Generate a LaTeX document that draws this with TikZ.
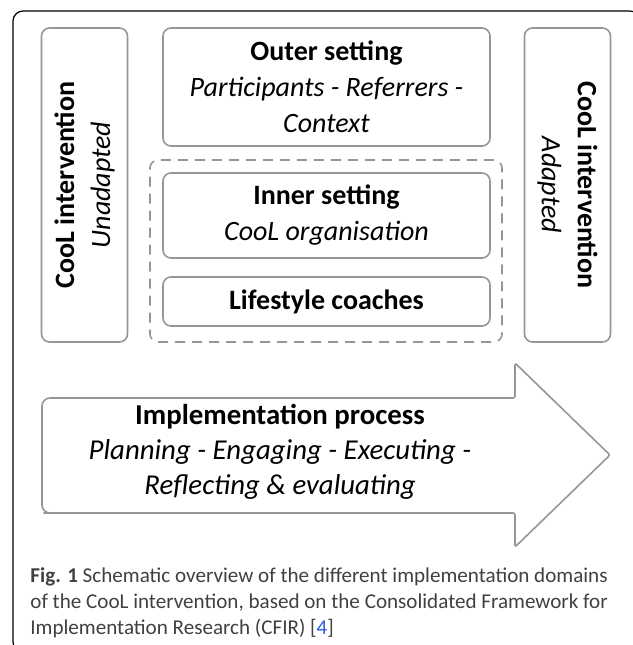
\documentclass[tikz,border=0pt]{standalone}
\usepackage{fontspec}
\setmainfont{Carlito}
\definecolor{boxgray}{RGB}{150,150,150}
\definecolor{citeblue}{RGB}{40,90,220}
\tikzstyle{setting} = [rectangle, rounded corners=4pt, draw=boxgray, line width=0.8pt, align=center, minimum width=163.5pt, inner sep=0pt, font=\fontsize{14}{18}\selectfont]
\tikzstyle{intervention} = [rectangle, rounded corners=4pt, draw=boxgray, line width=0.8pt, align=center, minimum width=157pt, minimum height=43pt, inner sep=0pt, font=\fontsize{14}{18}\selectfont]
\tikzstyle{innergroup} = [rectangle, rounded corners=4pt, draw=boxgray, line width=0.8pt, dash pattern=on 5pt off 3.5pt, minimum width=176pt, minimum height=91pt]
\tikzstyle{arrowshape} = [draw=boxgray, line width=0.8pt, line join=round]
\tikzstyle{figframe} = [draw=black, line width=0.6pt, rounded corners=5pt]

\begin{document}
\begin{tikzpicture}[x=0.5pt, y=0.5pt, node distance=43pt]

\useasboundingbox (0,0) rectangle (633,-645);
\draw [figframe] (13,-11) rectangle (640,-652);

\node (outer) [setting, minimum height=59pt] at (326.5,-87) {\textbf{Outer setting}\\ \textit{Participants - Referrers -}\\ \textit{Context}};
\node (inner) [setting, minimum height=42.5pt, below of=outer, yshift=-21.25pt] {\textbf{Inner setting}\\ \textit{CooL organisation}};
\node (coaches) [setting, minimum height=24.5pt, below of=inner] {\textbf{Lifestyle coaches}};
\node (innerdomain) [innergroup] at (326,-251) {};

\node (unadapted) [intervention, rotate=90] at (84.5,-185) {\textbf{CooL intervention}\\ \textit{Unadapted}};
\node (adapted) [intervention, rotate=-90] at (567.5,-185) {\textbf{CooL intervention}\\ \textit{Adapted}};

% process arrow: rounded tail, sharp-ish head
\draw [arrowshape] (610,-455) [rounded corners=1pt] -- (515,-363) -- (515,-398) -- (505,-398) [rounded corners=4pt] -- (42,-398) -- (42,-513) -- (52,-513) [rounded corners=1pt] -- (515,-513) -- (515,-547) -- cycle;
\node (implementation) [align=center, font=\fontsize{14.4}{17.5}\selectfont] at (280,-452) {\textbf{Implementation process}\\ \textit{Planning - Engaging - Executing -}\\ \textit{Reflecting \& evaluating}};

\node (caption) [anchor=base west, align=left, inner sep=0pt, font=\fontsize{10.55}{13}\selectfont, text=black!75] at (30,-634) {\textbf{Fig. 1} Schematic overview of the different implementation domains\\ of the CooL intervention, based on the Consolidated Framework for\\ Implementation Research (CFIR) [{\color{citeblue}4}]};

\end{tikzpicture}
\end{document}
